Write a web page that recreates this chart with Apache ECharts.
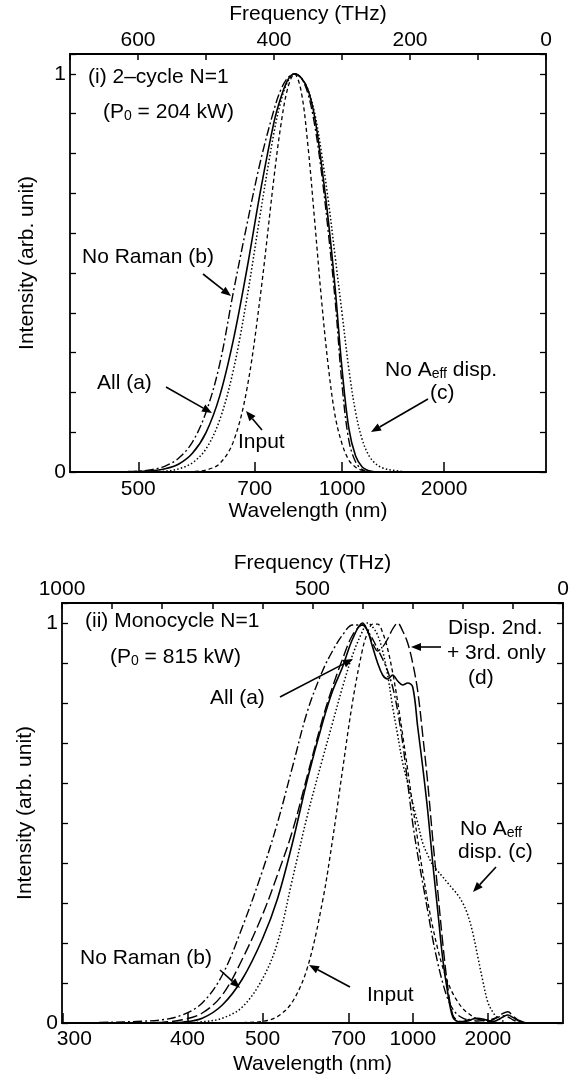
<!DOCTYPE html>
<html>
<head>
<meta charset="utf-8">
<title>Spectra</title>
<script src="https://cdn.jsdelivr.net/npm/echarts@6/dist/echarts.min.js"></script>
<style>
html, body { margin: 0; padding: 0; background: #fff; }
#chart { width: 581px; height: 1079px; }
</style>
</head>
<body>
<div id="chart"></div>
<script>
// panel (i): 2-cycle N=1, frequency in THz
const freq1 = [640, 620, 600, 580, 560, 540, 520, 500, 480, 460, 440, 420, 400, 390, 380, 370,
	360, 350, 340, 330, 320, 310, 300, 290, 280, 270, 260, 250, 240, 220, 200, 180];
const input1 = [0, 0, 0, 0, 0, 0, 0.001, 0.005, 0.021, 0.075, 0.207, 0.444, 0.74, 0.87, 0.963, 1,
	0.956, 0.818, 0.627, 0.43, 0.263, 0.14, 0.071, 0.03, 0.012, 0.004, 0.001, 0, 0, 0, 0, 0];
const allA1 = [0, 0, 0.001, 0.003, 0.008, 0.02, 0.047, 0.099, 0.19, 0.33, 0.508, 0.705, 0.879, 0.94, 0.984, 1,
	0.99, 0.96, 0.89, 0.77, 0.63, 0.46, 0.26, 0.11, 0.04, 0.012, 0.003, 0, 0, 0, 0, 0];
const noRamanB1 = [0, 0.001, 0.002, 0.006, 0.015, 0.035, 0.075, 0.15, 0.27, 0.45, 0.62, 0.78, 0.91, 0.96, 0.99, 1,
	0.99, 0.95, 0.87, 0.75, 0.6, 0.43, 0.22, 0.08, 0.025, 0.006, 0, 0, 0, 0, 0, 0];
const noAeffC1 = [0, 0, 0, 0.001, 0.002, 0.008, 0.023, 0.058, 0.13, 0.254, 0.435, 0.65, 0.853, 0.93, 0.98, 1,
	0.99, 0.96, 0.9, 0.8, 0.68, 0.54, 0.4, 0.26, 0.15, 0.08, 0.04, 0.02, 0.01, 0.003, 0, 0];

// panel (ii): monocycle N=1
const freq2 = [960, 900, 850, 800, 760, 720, 680, 640, 600, 570, 540, 510, 480, 460, 440, 420, 400,
	390, 380, 370, 360, 350, 340, 330, 320, 310, 300, 290, 280, 270, 260, 250, 240, 230, 220, 210,
	200, 190, 180, 170, 160, 150, 140, 130, 120, 110, 100, 90, 80, 70, 60];
const input2 = [0, 0, 0, 0, 0, 0, 0, 0.001, 0.004, 0.016, 0.053, 0.139, 0.304, 0.458, 0.633, 0.803, 0.935,
	0.976, 0.997, 0.997, 0.976, 0.935, 0.876, 0.803, 0.72, 0.633, 0.544, 0.458, 0.377, 0.304, 0.24, 0.185,
	0.139, 0.102, 0.074, 0.053, 0.036, 0.025, 0.016, 0.01, 0.007, 0.004, 0.002, 0.001, 0, 0, 0, 0, 0, 0, 0];
const allA2 = [0, 0, 0, 0, 0.002, 0.012, 0.045, 0.11, 0.21, 0.31, 0.45, 0.61, 0.75, 0.83, 0.89, 0.96, 1,
	0.98, 0.94, 0.9, 0.87, 0.86, 0.87, 0.855, 0.845, 0.85, 0.84, 0.74, 0.64, 0.53, 0.4, 0.28,
	0.16, 0.075, 0.015, 0.004, 0.003, 0.005, 0.01, 0.012, 0.01, 0.006, 0.004, 0.008, 0.015, 0.02, 0.014, 0.006, 0.002, 0, 0];
const noRamanB2 = [0, 0.002, 0.004, 0.008, 0.02, 0.05, 0.12, 0.24, 0.38, 0.5, 0.64, 0.78, 0.88, 0.93, 0.97, 0.995, 0.995,
	0.98, 0.96, 0.935, 0.91, 0.88, 0.84, 0.78, 0.7, 0.6, 0.5, 0.42, 0.35, 0.28, 0.21, 0.15,
	0.1, 0.06, 0.035, 0.02, 0.012, 0.008, 0.006, 0.005, 0.006, 0.008, 0.01, 0.014, 0.018, 0.015, 0.008, 0.003, 0, 0, 0];
const noAeffC2 = [0, 0, 0, 0, 0, 0.003, 0.012, 0.04, 0.11, 0.2, 0.36, 0.52, 0.66, 0.75, 0.84, 0.92, 0.98,
	1, 0.99, 0.97, 0.93, 0.87, 0.79, 0.72, 0.65, 0.6, 0.55, 0.5, 0.45, 0.42, 0.395, 0.38,
	0.365, 0.35, 0.335, 0.32, 0.3, 0.27, 0.225, 0.165, 0.105, 0.052, 0.027, 0.012, 0.005, 0, 0, 0, 0, 0, 0];
const dispD2 = [0, 0, 0, 0.002, 0.008, 0.025, 0.07, 0.16, 0.27, 0.37, 0.48, 0.62, 0.76, 0.84, 0.91, 0.97, 0.995,
	0.98, 0.95, 0.93, 0.94, 0.96, 0.985, 1, 0.98, 0.95, 0.9, 0.83, 0.72, 0.6, 0.46, 0.33,
	0.2, 0.09, 0.02, 0.006, 0.004, 0.008, 0.012, 0.01, 0.006, 0.004, 0.008, 0.016, 0.024, 0.028, 0.018, 0.008, 0.003, 0, 0];

// wavelength ticks (nm) on the bottom axes
const wlTicks1 = [500, 700, 1000, 2000];
const wlTicks2 = [300, 400, 500, 700, 1000, 2000];

const C = 299792.458; // nm*THz
const FONT = 'Liberation Sans, Arial, Helvetica, sans-serif';
const FS = 21;
const txt = { fontSize: FS, fontFamily: FONT, color: '#000' };
const axisLine = { onZero: false, lineStyle: { color: '#000', width: 1.8 } };

const DASH_DOT = [9, 3, 2, 3];
const DOT = [1.5, 2.2];
const SHORT_DASH = [4, 3];
const LONG_DASH = [11, 4];

function freqAxis(grid, maxF, step) {
	return {
		type: 'value', gridIndex: grid, position: 'top', min: 0, max: maxF, interval: 100, inverse: true,
		name: 'Frequency (THz)', nameLocation: 'middle', nameGap: 29, nameTextStyle: txt,
		axisLine: axisLine,
		axisTick: { inside: true, length: 6, lineStyle: { color: '#000', width: 1.5 } },
		axisLabel: Object.assign({ margin: 3, formatter: v => (v % step === 0 ? String(v) : '') }, txt),
		splitLine: { show: false }
	};
}

function wlAxis(grid, maxF, wls, margin, gap) {
	const vals = wls.map(w => C / w);
	return {
		type: 'value', gridIndex: grid, position: 'bottom', min: 0, max: maxF, inverse: true,
		name: 'Wavelength (nm)', nameLocation: 'middle', nameGap: gap, nameTextStyle: txt,
		axisLine: axisLine,
		axisTick: { inside: true, length: 10, customValues: vals, lineStyle: { color: '#000', width: 1.5 } },
		axisLabel: Object.assign({
			margin: margin, customValues: vals,
			formatter: v => {
				const w = Math.round(C / v);
				return w === 300 ? '{p|300}' : String(w);
			},
			rich: { p: Object.assign({ padding: [0, 0, 0, 24] }, txt) }
		}, txt),
		splitLine: { show: false }
	};
}

function intensityAxis(grid, pos, gap) {
	const left = pos === 'left';
	return {
		type: 'value', gridIndex: grid, position: pos, min: 0, max: 1.05, interval: 0.1,
		name: left ? 'Intensity (arb. unit)' : '', nameLocation: 'middle', nameGap: gap,
		nameTextStyle: txt,
		axisLine: axisLine,
		axisTick: { inside: true, length: 6, lineStyle: { color: '#000', width: 1.3 } },
		axisLabel: Object.assign({
			show: left, margin: 4,
			formatter: v => (Math.abs(v) < 1e-6 ? '0' : Math.abs(v - 1) < 1e-6 ? '1' : '')
		}, txt),
		splitLine: { show: false }
	};
}

function curve(freq, vals, xi, yi, type, width) {
	return {
		type: 'line', xAxisIndex: xi, yAxisIndex: yi,
		data: freq.map((f, i) => [f, vals[i]]),
		symbol: 'none', smooth: 0.35, silent: true,
		lineStyle: { color: '#000', width: width, type: type }
	};
}

const rich = {
	n: { fontSize: FS, fontFamily: FONT, color: '#000', lineHeight: 24, verticalAlign: 'bottom' },
	s: { fontSize: 14, fontFamily: FONT, color: '#000', lineHeight: 14, verticalAlign: 'bottom' }
};

function label(x, y, text) {
	return {
		type: 'text', x: x, y: y, silent: true,
		style: {
			text: text, rich: rich, fill: '#000', font: FS + 'px ' + FONT,
			align: 'left', verticalAlign: 'middle', textAlign: 'left', textVerticalAlign: 'middle'
		}
	};
}

function arrow(x1, y1, x2, y2) {
	const a = Math.atan2(y2 - y1, x2 - x1);
	const L = 10, W = 4;
	const bx = x2 - L * Math.cos(a), by = y2 - L * Math.sin(a);
	const px = -Math.sin(a) * W, py = Math.cos(a) * W;
	return [
		{ type: 'line', silent: true, shape: { x1: x1, y1: y1, x2: bx, y2: by }, style: { stroke: '#000', lineWidth: 1.6 } },
		{ type: 'polygon', silent: true, shape: { points: [[x2, y2], [bx + px, by + py], [bx - px, by - py]] }, style: { fill: '#000' } }
	];
}

const graphics = [].concat(
	label(88, 77, '(i) 2–cycle N=1'),
	label(103, 111, '{n|(P}{s|0}{n| = 204 kW)}'),
	label(82, 257, 'No Raman (b)'),
	arrow(203, 274, 231, 296),
	label(97, 383, 'All (a)'),
	arrow(166, 387, 212, 413),
	label(238, 442, 'Input'),
	arrow(262, 430, 246, 411),
	label(385, 369, '{n|No A}{s|eff}{n| disp.}'),
	label(430, 393, '(c)'),
	arrow(428, 399, 371, 432),

	label(85, 621, '(ii) Monocycle N=1'),
	label(110, 656, '{n|(P}{s|0}{n| = 815 kW)}'),
	label(210, 698, 'All (a)'),
	arrow(280, 697, 353, 659),
	label(448, 628, 'Disp. 2nd.'),
	label(447, 653, '+ 3rd. only'),
	label(468, 678, '(d)'),
	arrow(441, 647, 411, 647),
	label(460, 828, '{n|No A}{s|eff}'),
	label(458, 852, 'disp. (c)'),
	arrow(496, 867, 473, 892),
	label(80, 958, 'No Raman (b)'),
	arrow(220, 970, 240, 988),
	label(367, 995, 'Input'),
	arrow(350, 987, 309, 965)
);

const chart = echarts.init(document.getElementById('chart'), null, { renderer: 'canvas' });
chart.setOption({
	animation: false,
	backgroundColor: '#fff',
	grid: [
		{ left: 70, top: 54, width: 476, height: 418 },
		{ left: 62, top: 603, width: 501, height: 420 }
	],
	xAxis: [
		freqAxis(0, 700, 200),
		wlAxis(0, 700, wlTicks1, 7, 24),
		freqAxis(1, 1000, 500),
		wlAxis(1, 1000, wlTicks2, 6, 31)
	],
	yAxis: [
		intensityAxis(0, 'left', 32),
		intensityAxis(0, 'right', 0),
		intensityAxis(1, 'left', 24),
		intensityAxis(1, 'right', 0)
	],
	series: [
		curve(freq1, input1, 0, 0, SHORT_DASH, 1.3),
		curve(freq1, noAeffC1, 0, 0, DOT, 1.5),
		curve(freq1, noRamanB1, 0, 0, DASH_DOT, 1.4),
		curve(freq1, allA1, 0, 0, 'solid', 1.6),

		curve(freq2, input2, 2, 2, SHORT_DASH, 1.3),
		curve(freq2, noAeffC2, 2, 2, DOT, 1.5),
		curve(freq2, noRamanB2, 2, 2, DASH_DOT, 1.4),
		curve(freq2, dispD2, 2, 2, LONG_DASH, 1.4),
		curve(freq2, allA2, 2, 2, 'solid', 1.6)
	],
	graphic: graphics
});
</script>
</body>
</html>
